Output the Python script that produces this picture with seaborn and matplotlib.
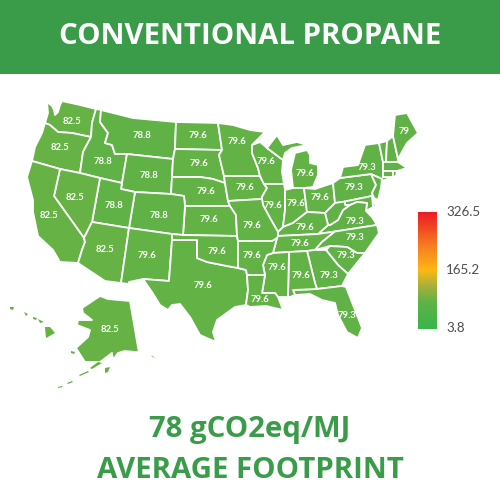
import numpy as np
import matplotlib
matplotlib.use("Agg")
import matplotlib.pyplot as plt
from matplotlib.collections import PolyCollection
from matplotlib.colors import LinearSegmentedColormap, Normalize
from matplotlib.patches import Rectangle
import seaborn as sns

TITLE = "CONVENTIONAL PROPANE"
FOOT_1 = "78 gCO2eq/MJ"
FOOT_2 = "AVERAGE FOOTPRINT"
SCALE_MIN, SCALE_MID, SCALE_MAX = 3.8, 165.2, 326.5

state_values = {
    "WA": 82.5, "OR": 82.5, "CA": 82.5, "NV": 82.5, "AZ": 82.5, "AK": 82.5, "HI": 82.5,
    "ID": 78.8, "MT": 78.8, "WY": 78.8, "UT": 78.8, "CO": 78.8,
    "NM": 79.6, "TX": 79.6, "OK": 79.6, "KS": 79.6, "NE": 79.6, "SD": 79.6, "ND": 79.6,
    "MN": 79.6, "IA": 79.6, "MO": 79.6, "AR": 79.6, "LA": 79.6, "MS": 79.6, "AL": 79.6,
    "TN": 79.6, "KY": 79.6, "OH": 79.6, "IN": 79.6, "IL": 79.6, "WI": 79.6, "MI": 79.6,
    "GA": 79.3, "FL": 79.3, "SC": 79.3, "NC": 79.3, "VA": 79.3, "WV": 79.3, "MD": 79.3,
    "DE": 79.3, "NJ": 79.3, "PA": 79.3, "NY": 79.3, "CT": 79.3, "RI": 79.3, "MA": 79.3,
    "VT": 79.3, "NH": 79.3, "ME": 79.0,
}

# state outlines (image pixels); neighbours share vertices
outlines = {
    "WA": [[(62,101),(80,105),(96,109),(92,123),(91,137),(72,133),(58,132),(50,125),(45,123),(48,113),(47,102),(52,106),(54,110),(55,115),(58,112),(60,105)]],
    "OR": [[(45,123),(50,125),(58,132),(72,133),(91,137),(83,152),(80,173),(60,169),(32,161),(35,147),(42,133)]],
    "ID": [[(96,109),(101,110),(100,122),(108,133),(105,143),(112,145),(115,154),(127,154),(122,183),(100,178),(80,173),(83,152),(91,137),(92,123)]],
    "MT": [[(101,110),(133,118),(176,122),(175,149),(173,159),(127,154),(115,154),(112,145),(105,143),(108,133),(100,122)]],
    "WY": [[(127,154),(173,159),(172,177),(171,194),(135,192),(121,189),(122,183)]],
    "ND": [[(176,122),(218,123),(222,150),(175,149)]],
    "SD": [[(175,149),(222,150),(219,155),(224,176),(225,183),(213,179),(200,177),(172,177),(173,159)]],
    "NE": [[(172,177),(200,177),(213,179),(225,183),(228,201),(230,206),(185,206),(184,196),(171,194)]],
    "KS": [[(185,206),(230,206),(236,215),(237,236),(183,235)]],
    "CO": [[(135,192),(171,194),(184,196),(185,206),(183,235),(172,234),(129,228)]],
    "UT": [[(100,178),(122,183),(121,189),(135,192),(129,228),(92,222)]],
    "NV": [[(60,169),(80,173),(100,178),(92,222),(88,230),(84,238),(54,196)]],
    "CA": [[(32,161),(60,169),(54,196),(84,238),(85,242),(82,250),(78,263),(60,262),(53,250),(38,236),(33,212),(33,200),(27,177)]],
    "AZ": [[(92,222),(129,228),(121,283),(105,281),(78,263),(82,250),(85,242),(84,238),(88,230)]],
    "NM": [[(129,228),(172,234),(172,240),(169,281),(143,279),(129,282),(129,284),(121,283)]],
    "TX": [[(172,240),(197,240),(197,258),(207,262),(227,266),(238,268),(246,270),(247,275),(248,290),(246,305),(235,307),(217,320),(213,332),(216,342),(200,335),(190,317),(180,304),(172,305),(168,310),(160,305),(152,292),(143,279),(169,281)]],
    "OK": [[(172,234),(183,235),(237,236),(238,241),(238,268),(227,266),(207,262),(197,258),(197,240),(172,240)]],
    "MN": [[(218,123),(233,125),(250,130),(265,132),(252,145),(252,153),(258,168),(260,176),(224,176),(219,155),(222,150)]],
    "IA": [[(224,176),(260,176),(264,184),(267,188),(262,197),(262,199),(228,201),(225,183)]],
    "WI": [[(252,145),(260,142),(267,148),(283,160),(282,172),(284,184),(264,184),(260,176),(258,168),(252,153)]],
    "MI": [[(267,148),(277,135),(283,145),(297,142),(307,145),(292,148),(285,153),(283,160)],
           [(295,153),(307,150),(310,155),(310,163),(318,165),(318,175),(313,187),(304,188),(293,188),(291,170)]],
    "IL": [[(264,184),(284,184),(285,190),(285,210),(283,227),(278,232),(270,218),(263,205),(262,199),(262,197),(267,188)]],
    "IN": [[(285,190),(293,188),(304,188),(307,212),(293,223),(283,227),(285,210)]],
    "OH": [[(304,188),(315,189),(333,183),(335,203),(325,213),(307,212)]],
    "PA": [[(333,183),(340,178),(371,174),(376,185),(372,193),(372,196),(345,201.5),(335,203)]],
    "NY": [[(340,178),(343,167),(358,165),(365,145),(379,143),(383,162),(383,171),(383,177),(395,176),(382,181),(382,179),(371,174)]],
    "VT": [[(379,143),(387,141),(386,162),(383,162)]],
    "NH": [[(387,141),(393,136),(398,159),(398,162),(386,162)]],
    "ME": [[(393,136),(395,115),(407,113),(418,133),(407,143),(398,159)]],
    "MA": [[(383,162),(398,162),(407,168),(397,171),(393,171),(383,171)]],
    "CT": [[(383,171),(393,171),(393,177),(383,177)]],
    "RI": [[(393,171),(397,171),(396,176),(393,177)]],
    "NJ": [[(371,174),(382,179),(381,188),(378,200),(374,198),(372,193),(376,185)]],
    "DE": [[(372,196),(376,207),(373,207)]],
    "MD": [[(345,201.5),(372,196),(373,207),(366,211),(367,203),(357,202),(350,205),(345,205)]],
    "VA": [[(350,205),(357,202),(367,203),(366,211),(372,217),(377,225),(335,231.5),(318,234),(328,225),(330,225),(338,220),(343,210)]],
    "WV": [[(325,213),(335,203),(345,201.5),(345,205),(350,205),(343,210),(338,220),(330,225),(328,225)]],
    "KY": [[(278,232),(283,227),(293,223),(307,212),(325,213),(328,225),(318,234),(278,236)]],
    "TN": [[(277,238),(278,236),(318,234),(335,231.5),(322,242),(315,250),(307,251),(289,252),(273,253)]],
    "NC": [[(335,231.5),(377,225),(379,233),(365,253),(357,253),(347,247),(330,246),(315,250),(322,242)]],
    "SC": [[(326,250),(330,246),(347,247),(357,253),(365,253),(348,274),(338,265)]],
    "GA": [[(307,251),(315,250),(326,250),(338,265),(348,274),(342,286),(317,289),(315,283)]],
    "FL": [[(293,290),(317,289),(342,286),(346,287),(362,328),(358,338),(347,332),(338,315),(335,303),(322,300),(310,294),(295,295)]],
    "AL": [[(289,252),(307,251),(315,283),(317,289),(293,290),(295,295),(290,297),(288,297)]],
    "MS": [[(267,255),(273,253),(289,252),(288,297),(278,297),(275,293),(262,293),(265,275),(263,265)]],
    "LA": [[(247,275),(265,275),(262,293),(275,293),(278,297),(283,310),(266,306),(250,307),(246,305),(248,290)]],
    "AR": [[(238,241),(272,241),(277,238),(273,253),(267,255),(263,265),(265,275),(247,275),(246,270),(238,268)]],
    "MO": [[(228,201),(262,199),(263,205),(270,218),(278,232),(278,236),(277,238),(272,241),(238,241),(237,236),(236,215),(230,206)]],
    "AK": [[(82,308),(100,296),(108,299),(130,301),(139,353),(153,355),(164,365),(145,353),(125,351),(118,353),(113,360),(112,353),(100,362),(85,362),(76,348),(88,337),(90,330),(77,325),(78,320),(92,320),(83,313)]],
}
# small islands, drawn without a white edge
islands = {
    "AK": [[(105,368),(110,367),(108,372),(105,373)],
           [(98,362),(102,363),(92,369),(90,368)],
           [(88,371),(89,372),(80,376),(79,375)],
           [(72,381),(73,382),(68,384),(67,383)],
           [(62,386),(63,387),(58,388),(58,387)],
           [(71,351),(75,352),(74,354),(71,353)]],
    "HI": [[(45,327),(50,327),(55,333),(46,338)],
           [(33,317),(37,318),(36,320),(33,319)],
           [(38,319),(44,322),(40,323)],
           [(24,312),(28,314),(26,316)],
           [(10,307),(14,307),(13,310),(10,309)]],
}

label_spots = {
    "WA": (72,121), "OR": (60,148), "CA": (49,216), "NV": (75,197), "AZ": (105,250), "AK": (110,330),
    "ID": (103,162), "MT": (142,136), "WY": (149,175), "UT": (114,206), "CO": (159,215),
    "NM": (147,255), "TX": (203,285), "OK": (217,251), "KS": (209,219), "NE": (206,192),
    "SD": (199,163), "ND": (198,136), "MN": (237,141), "IA": (245,188), "MO": (252,226),
    "AR": (252,255), "LA": (260,300), "MS": (277,268), "AL": (301,275), "TN": (300,244),
    "KY": (305,228), "OH": (320,198), "IN": (296,203), "IL": (273,206), "WI": (266,161),
    "MI": (305,174), "GA": (329,275), "FL": (347,316), "SC": (346,255), "NC": (355,238),
    "VA": (355,222), "PA": (354,187), "NY": (367,167), "ME": (404,132),
}

scale_colors = [(0.0, "#39b54a"), (0.23, "#5fb246"), (0.36, "#a3b03a"), (0.5, "#fdb913"), (0.72, "#f47b20"), (1.0, "#ed1c24")]
BAND = "#3a9b49"

sns.set_theme(style="white")
plt.rcParams["font.family"] = ["Open Sans", "DejaVu Sans"]
cmap = LinearSegmentedColormap.from_list("footprint", scale_colors)
norm = Normalize(SCALE_MIN, SCALE_MAX)

fig = plt.figure(figsize=(5, 5), dpi=100, facecolor="white")
ax = fig.add_axes([0, 0, 1, 1])
ax.set_xlim(0, 500)
ax.set_ylim(500, 0)
ax.axis("off")

ax.add_patch(Rectangle((0, 0), 500, 74, color=BAND, lw=0))
ax.text(250, 36, TITLE, color="white", fontsize=21.2, fontweight="bold", ha="center", va="center")
ax.text(250, 430, FOOT_1, color=BAND, fontsize=21.2, fontweight="bold", ha="center", va="center")
ax.text(250, 471, FOOT_2, color=BAND, fontsize=21.2, fontweight="bold", ha="center", va="center")

polys, vals = [], []
for st, parts in outlines.items():
    for part in parts:
        polys.append(part)
        vals.append(state_values[st])
ax.add_collection(PolyCollection(polys, array=np.array(vals), cmap=cmap, norm=norm,
                                 edgecolors="white", linewidths=1.3, joinstyle="round"))
polys2, vals2 = [], []
for st, parts in islands.items():
    for part in parts:
        polys2.append(part)
        vals2.append(state_values[st])
ax.add_collection(PolyCollection(polys2, array=np.array(vals2), cmap=cmap, norm=norm, linewidths=0))

for st, (x, y) in label_spots.items():
    ax.text(x, y, f"{state_values[st]:g}", color="white", fontsize=6.8, fontweight="bold",
            family="Lato", ha="center", va="center")

cax = fig.add_axes([418/500, 1-329/500, 19/500, 117/500])
legend_ramp = np.linspace(SCALE_MAX, SCALE_MIN, 120).reshape(-1, 1)
sns.heatmap(legend_ramp, ax=cax, cmap=cmap, vmin=SCALE_MIN, vmax=SCALE_MAX, cbar=False,
            xticklabels=False, yticklabels=False)
for val, y in [(SCALE_MAX, 212), (SCALE_MID, 270), (SCALE_MIN, 328)]:
    ax.text(446, y, f"{val:g}", color="#4d4d4d", fontsize=9.6, family="Lato", ha="left", va="center")

fig.savefig("out.png", dpi=100, facecolor="white")
